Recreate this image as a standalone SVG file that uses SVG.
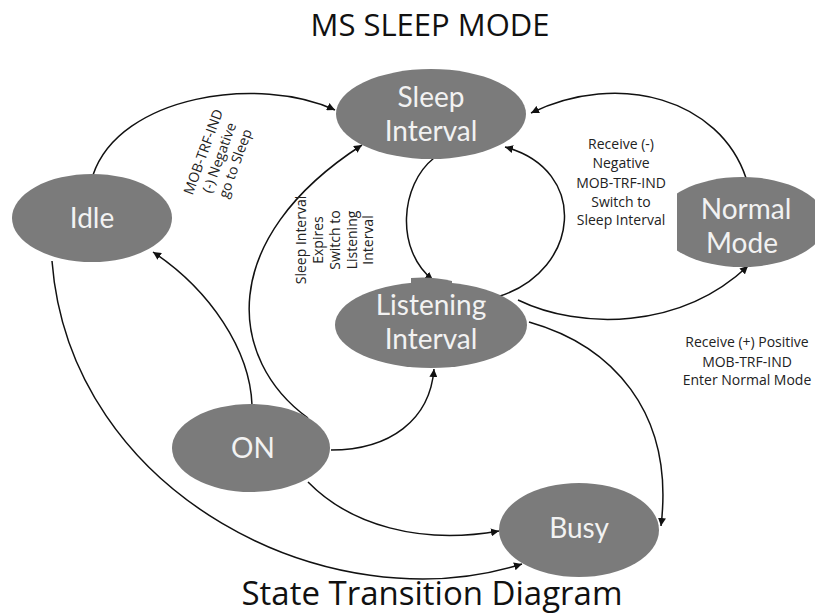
<svg xmlns="http://www.w3.org/2000/svg" width="815" height="615" viewBox="0 0 815 615">
<style>
.node{fill:#7b7b7b}
.nt{font-family:Lato,"Open Sans",sans-serif;font-size:28px;fill:#f2f2f2;text-anchor:middle}
.lbl{font-family:"Open Sans","Noto Sans",sans-serif;font-size:14px;fill:#222;text-anchor:middle}
.title{font-family:"Open Sans","Noto Sans",sans-serif;fill:#111;text-anchor:middle}
.edge{fill:none;stroke:#111;stroke-width:1.5;marker-end:url(#arr)}
</style>
<defs>
<marker id="arr" markerUnits="userSpaceOnUse" markerWidth="10" markerHeight="8" refX="8" refY="4" orient="auto">
<path d="M0,0 L8,4 L0,8 Z" fill="#111"/>
</marker>
<clipPath id="nclip"><rect x="677" y="0" width="200" height="615"/></clipPath>
</defs>
<rect width="815" height="615" fill="#fff"/>
<text class="title" x="430" y="36" font-size="31">MS SLEEP MODE</text>
<text class="title" x="432" y="605" font-size="33">State Transition Diagram</text>

<g id="connectors">
<path class="edge" d="M93,175 C120,95 260,75 335,110"/>
<path class="edge" d="M434,158 C400,185 395,250 433,280"/>
<path class="edge" d="M500,296 C580,270 590,170 505,147"/>
<path class="edge" d="M746,178 C720,100 620,70 531,113"/>
<path class="edge" d="M518,300 C580,330 680,330 748,266"/>
<path class="edge" d="M529,322 C610,345 675,410 661,526"/>
<path class="edge" d="M252,405 C250,350 210,290 153,252"/>
<path class="edge" d="M308,418 C228,360 215,240 362,145"/>
<path class="edge" d="M331,450 C390,450 430,420 434,369"/>
<path class="edge" d="M308,482 C350,525 420,545 499,531"/>
<path class="edge" d="M52,261 C70,495 330,625 522,564"/>
</g>

<g id="labels">
<g transform="translate(220,158) rotate(-70)">
<text class="lbl" font-size="13" x="0" y="-13">MOB-TRF-IND</text>
<text class="lbl" font-size="13" x="0" y="4">(-) Negative</text>
<text class="lbl" font-size="13" x="0" y="21">go to Sleep</text>
</g>
<g transform="translate(335,240) rotate(-90)">
<text class="lbl" x="0" y="-29">Sleep Interval</text>
<text class="lbl" x="0" y="-12">Expires</text>
<text class="lbl" x="0" y="5">Switch to</text>
<text class="lbl" x="0" y="22">Listening</text>
<text class="lbl" x="0" y="38">Interval</text>
</g>
<text class="lbl" x="621" y="149">Receive (-)</text>
<text class="lbl" x="621" y="168">Negative</text>
<text class="lbl" x="621" y="188">MOB-TRF-IND</text>
<text class="lbl" x="621" y="207">Switch to</text>
<text class="lbl" x="621" y="225">Sleep Interval</text>
<text class="lbl" x="747" y="347">Receive (+) Positive</text>
<text class="lbl" x="747" y="367">MOB-TRF-IND</text>
<text class="lbl" x="747" y="385">Enter Normal Mode</text>
</g>

<g id="sleep">
<ellipse class="node" cx="431" cy="114" rx="95" ry="45"/>
<text class="nt" x="431" y="107">Sleep</text>
<text class="nt" x="431" y="141">Interval</text>
</g>
<g id="idle">
<ellipse class="node" cx="92" cy="218" rx="80" ry="44"/>
<text class="nt" x="92" y="228">Idle</text>
</g>
<g id="normal">
<ellipse class="node" cx="742" cy="222" rx="84" ry="45" clip-path="url(#nclip)"/>
<text class="nt" x="746" y="219">Normal</text>
<text class="nt" x="742" y="253">Mode</text>
</g>
<g id="listening">
<ellipse class="node" cx="431" cy="325" rx="96" ry="43"/>
<path class="node" d="M411,292 L411,278 Q432,276 452,281 L452,292 Z"/>
<text class="nt" x="431" y="315">Listening</text>
<text class="nt" x="431" y="349">Interval</text>
</g>
<g id="on">
<ellipse class="node" cx="251" cy="448" rx="79" ry="44"/>
<text class="nt" x="253" y="458">ON</text>
</g>
<g id="busy">
<ellipse class="node" cx="579" cy="530" rx="80" ry="47"/>
<text class="nt" x="579" y="538">Busy</text>
</g>
</svg>
